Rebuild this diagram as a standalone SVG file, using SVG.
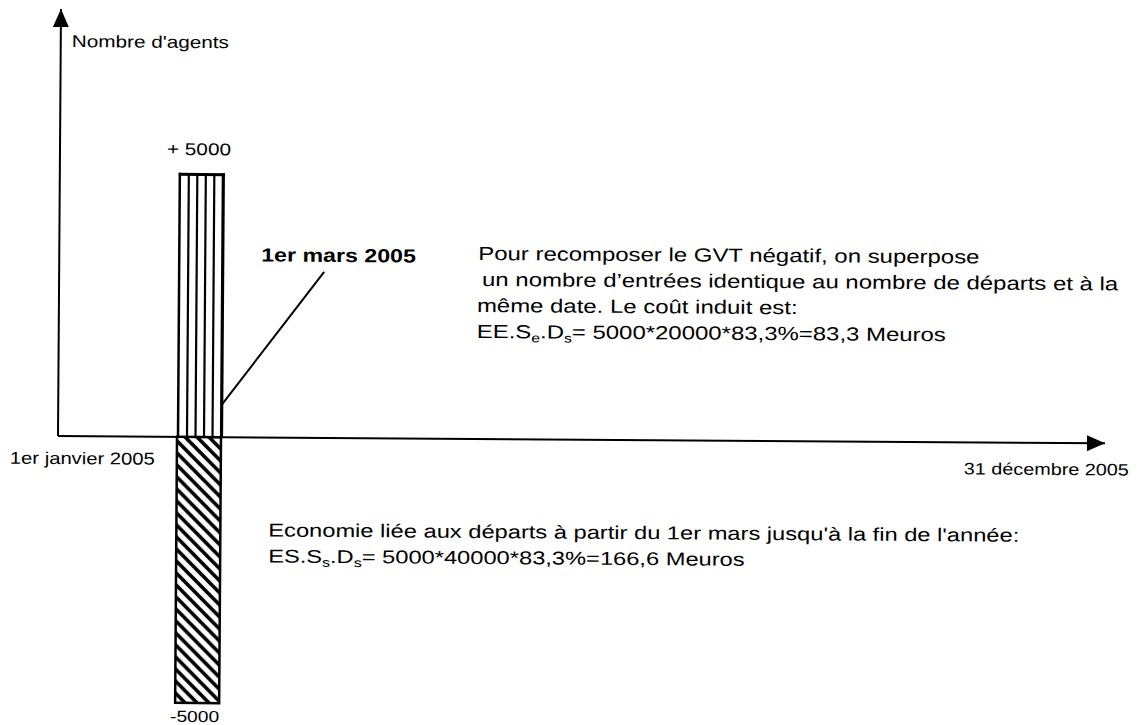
<svg xmlns="http://www.w3.org/2000/svg" width="1138" height="725" viewBox="0 0 1138 725">
  <style>
    .t { font-family: "Liberation Sans", Arial, sans-serif; fill: #000; }
    .b { font-weight: bold; }
    .axis { stroke: #000; stroke-width: 2; fill: none; }
    .edge { stroke: #000; fill: none; }
  </style>
  <defs>
    <marker id="arrow" markerUnits="userSpaceOnUse" markerWidth="18" markerHeight="16" refX="18" refY="8" orient="auto">
      <path d="M0,0 L18,8 L0,16 Z" fill="#000"/>
    </marker>
    <pattern id="hatch" patternUnits="userSpaceOnUse" width="12" height="12">
      <path d="M-3,-3 L15,15 M-3,9 L3,15 M9,-3 L15,3" stroke="#000" stroke-width="3.6"/>
    </pattern>
  </defs>
  <rect width="1138" height="725" fill="#fff"/>
  <g transform="rotate(0.4 200 437)">
    <g id="connectors">
      <line class="axis" x1="58" y1="437" x2="58" y2="10" marker-end="url(#arrow)"/>
      <line class="axis" x1="58" y1="437" x2="1105" y2="437" marker-end="url(#arrow)"/>
      <line class="axis" x1="222" y1="404" x2="323" y2="271"/>
    </g>
    <g id="bar-entrees">
      <rect x="178" y="174" width="44" height="263" fill="#fff"/>
      <g class="edge" stroke-width="2.2">
        <line x1="187" y1="174" x2="187" y2="437"/>
        <line x1="195.5" y1="174" x2="195.5" y2="437"/>
        <line x1="204" y1="174" x2="204" y2="437"/>
        <line x1="212.5" y1="174" x2="212.5" y2="437"/>
      </g>
      <line class="edge" stroke-width="2.5" x1="178" y1="173" x2="178" y2="437"/>
      <line class="edge" stroke-width="3.2" x1="221.5" y1="173" x2="221.5" y2="437"/>
      <line class="edge" stroke-width="3" x1="177" y1="174.5" x2="223" y2="174.5"/>
    </g>
    <g id="bar-departs">
      <rect x="177" y="437" width="44" height="266" fill="url(#hatch)" stroke="#000" stroke-width="2.5"/>
    </g>
    <g id="labels">
      <text class="t" font-size="17" transform="translate(69 48) scale(1.22 1)">Nombre d'agents</text>
      <text class="t" font-size="17" transform="translate(165 155) scale(1.22 1)">+ 5000</text>
      <text class="t" font-size="16" transform="translate(172 722) scale(1.2 1)">-5000</text>
      <text class="t" font-size="17" transform="translate(10 465) scale(1.19 1)">1er janvier 2005</text>
      <text class="t" font-size="16.5" transform="translate(964 469) scale(1.2 1)">31 décembre 2005</text>
      <text class="t b" font-size="19" transform="translate(260 261) scale(1.22 1)">1er mars 2005</text>
    </g>
    <g id="note-cout">
      <text class="t" font-size="19" transform="translate(477 258) scale(1.26 1)">Pour recomposer le GVT négatif, on superpose</text>
      <text class="t" font-size="19" transform="translate(481 284) scale(1.26 1)">un nombre d’entrées identique au nombre de départs et à la</text>
      <text class="t" font-size="19" transform="translate(476 310) scale(1.26 1)">même date. Le coût induit est:</text>
      <text class="t" font-size="19" transform="translate(476 336) scale(1.26 1)">EE.S<tspan font-size="12.5" dy="4">e</tspan><tspan dy="-4">.D</tspan><tspan font-size="12.5" dy="4">s</tspan><tspan dy="-4">= 5000*20000*83,3%=83,3 Meuros</tspan></text>
    </g>
    <g id="note-economie">
      <text class="t" font-size="18.5" transform="translate(269 536) scale(1.28 1)">Economie liée aux départs à partir du 1er mars jusqu'à la fin de l'année:</text>
      <text class="t" font-size="18.5" transform="translate(269 562) scale(1.28 1)">ES.S<tspan font-size="12.5" dy="4">s</tspan><tspan dy="-4">.D</tspan><tspan font-size="12.5" dy="4">s</tspan><tspan dy="-4">= 5000*40000*83,3%=166,6 Meuros</tspan></text>
    </g>
  </g>
</svg>
